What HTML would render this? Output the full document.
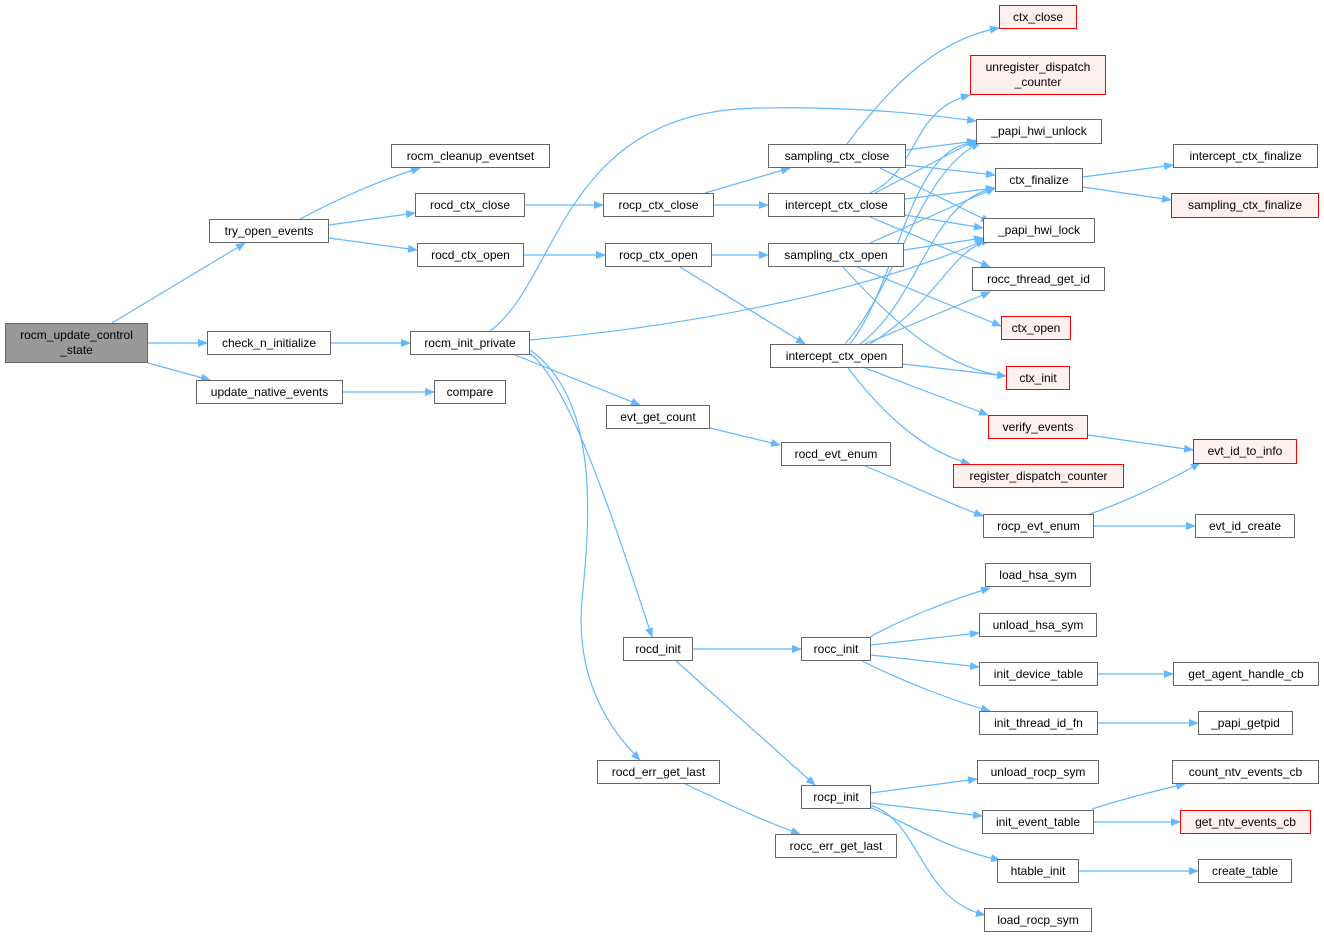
<!DOCTYPE html>
<html><head><meta charset="utf-8"><style>
body{margin:0;width:1324px;height:940px;background:#fff;position:relative;overflow:hidden;font-family:"Liberation Sans",Arial,sans-serif;}
.n{position:absolute;box-sizing:border-box;border:1px solid #666;background:#fff;font-size:12px;color:#000;display:flex;align-items:center;justify-content:center;text-align:center;line-height:15px;white-space:nowrap}
.r{border-color:#f00;background:#fff0f0}
.g{background:#999;border-color:#666}
svg{position:absolute;left:0;top:0}
</style></head><body>
<svg width="1324" height="940">
<defs><marker id="a" markerWidth="10" markerHeight="8" refX="9" refY="4" orient="auto" markerUnits="userSpaceOnUse"><path d="M0,0 L10,4 L0,8 z" fill="#63b8ff"/></marker></defs>
<g fill="none" stroke="#63b8ff" stroke-width="1.2" marker-end="url(#a)">
<path d="M112,323 L245,243"/>
<path d="M148,343 L207,343"/>
<path d="M148,363 L210,380"/>
<path d="M300,219 C340,198 380,180 420,168"/>
<path d="M329,225 L415,213"/>
<path d="M329,238 L417,250"/>
<path d="M331,343 L410,343"/>
<path d="M343,392 L434,392"/>
<path d="M525,205 L603,205"/>
<path d="M524,255 L605,255"/>
<path d="M490,331 C560,280 560,110 760,108 C860,106 930,115 976,121"/>
<path d="M530,340 C700,325 870,290 985,240"/>
<path d="M515,355 L640,405"/>
<path d="M528,352 C570,380 620,540 652,637"/>
<path d="M530,350 C600,400 590,520 582,600 C575,680 610,730 640,760"/>
<path d="M705,193 L790,168"/>
<path d="M714,205 L768,205"/>
<path d="M712,255 L768,255"/>
<path d="M680,267 L805,344"/>
<path d="M710,428 L780,445"/>
<path d="M865,466 C900,480 940,500 983,516"/>
<path d="M693,649 L801,649"/>
<path d="M676,661 L815,785"/>
<path d="M685,784 C720,800 760,820 800,834"/>
<path d="M847,144 C880,100 930,40 999,28"/>
<path d="M906,150 L976,141"/>
<path d="M906,165 L995,175"/>
<path d="M880,168 L990,222"/>
<path d="M870,193 C920,170 910,110 970,95"/>
<path d="M875,193 L976,140"/>
<path d="M905,199 L995,188"/>
<path d="M905,215 L983,228"/>
<path d="M870,217 L990,267"/>
<path d="M870,243 L995,188"/>
<path d="M904,250 L983,238"/>
<path d="M857,267 L1001,326"/>
<path d="M843,267 C900,330 950,370 1006,376"/>
<path d="M845,344 C900,280 920,170 980,143"/>
<path d="M850,344 C900,280 910,140 978,143"/>
<path d="M860,344 C920,300 930,200 995,188"/>
<path d="M870,344 C940,300 950,250 990,240"/>
<path d="M865,344 L990,292"/>
<path d="M903,364 L1006,376"/>
<path d="M865,368 L988,415"/>
<path d="M848,368 C880,410 920,450 970,464"/>
<path d="M1083,177 L1173,165"/>
<path d="M1083,187 L1171,200"/>
<path d="M1088,435 L1193,450"/>
<path d="M1090,514 C1130,500 1170,480 1200,463"/>
<path d="M1094,526 L1195,526"/>
<path d="M870,637 C900,620 950,600 990,588"/>
<path d="M871,645 L979,633"/>
<path d="M871,655 L979,667"/>
<path d="M862,661 C900,680 950,700 990,711"/>
<path d="M1098,674 L1173,674"/>
<path d="M1098,723 L1198,723"/>
<path d="M871,793 L977,779"/>
<path d="M871,803 L982,816"/>
<path d="M870,807 C920,830 950,850 1000,860"/>
<path d="M870,805 C920,820 920,900 985,915"/>
<path d="M1092,809 C1120,800 1150,792 1185,784"/>
<path d="M1094,822 L1180,822"/>
<path d="M1079,871 L1198,871"/>
</g></svg>
<div class="n g" style="left:5px;top:323px;width:143px;height:40px">rocm_update_control<br>_state</div>
<div class="n" style="left:209px;top:219px;width:120px;height:24px">try_open_events</div>
<div class="n" style="left:207px;top:331px;width:124px;height:24px">check_n_initialize</div>
<div class="n" style="left:196px;top:380px;width:147px;height:24px">update_native_events</div>
<div class="n" style="left:391px;top:144px;width:159px;height:24px">rocm_cleanup_eventset</div>
<div class="n" style="left:415px;top:193px;width:110px;height:24px">rocd_ctx_close</div>
<div class="n" style="left:417px;top:243px;width:107px;height:24px">rocd_ctx_open</div>
<div class="n" style="left:410px;top:331px;width:120px;height:24px">rocm_init_private</div>
<div class="n" style="left:434px;top:380px;width:72px;height:24px">compare</div>
<div class="n" style="left:603px;top:193px;width:111px;height:24px">rocp_ctx_close</div>
<div class="n" style="left:605px;top:243px;width:107px;height:24px">rocp_ctx_open</div>
<div class="n" style="left:606px;top:405px;width:104px;height:24px">evt_get_count</div>
<div class="n" style="left:781px;top:442px;width:110px;height:24px">rocd_evt_enum</div>
<div class="n" style="left:623px;top:637px;width:70px;height:24px">rocd_init</div>
<div class="n" style="left:597px;top:760px;width:123px;height:24px">rocd_err_get_last</div>
<div class="n" style="left:768px;top:144px;width:138px;height:24px">sampling_ctx_close</div>
<div class="n" style="left:768px;top:193px;width:137px;height:24px">intercept_ctx_close</div>
<div class="n" style="left:768px;top:243px;width:136px;height:24px">sampling_ctx_open</div>
<div class="n" style="left:770px;top:344px;width:133px;height:24px">intercept_ctx_open</div>
<div class="n" style="left:801px;top:637px;width:70px;height:24px">rocc_init</div>
<div class="n" style="left:801px;top:785px;width:70px;height:24px">rocp_init</div>
<div class="n" style="left:775px;top:834px;width:122px;height:24px">rocc_err_get_last</div>
<div class="n" style="left:983px;top:514px;width:111px;height:24px">rocp_evt_enum</div>
<div class="n r" style="left:999px;top:5px;width:78px;height:24px">ctx_close</div>
<div class="n r" style="left:970px;top:55px;width:136px;height:40px">unregister_dispatch<br>_counter</div>
<div class="n" style="left:976px;top:119px;width:126px;height:25px">_papi_hwi_unlock</div>
<div class="n" style="left:995px;top:168px;width:88px;height:24px">ctx_finalize</div>
<div class="n" style="left:983px;top:218px;width:112px;height:25px">_papi_hwi_lock</div>
<div class="n" style="left:972px;top:267px;width:133px;height:24px">rocc_thread_get_id</div>
<div class="n r" style="left:1001px;top:316px;width:70px;height:24px">ctx_open</div>
<div class="n r" style="left:1006px;top:366px;width:64px;height:24px">ctx_init</div>
<div class="n r" style="left:988px;top:415px;width:100px;height:24px">verify_events</div>
<div class="n r" style="left:953px;top:464px;width:171px;height:24px">register_dispatch_counter</div>
<div class="n" style="left:985px;top:563px;width:106px;height:24px">load_hsa_sym</div>
<div class="n" style="left:979px;top:613px;width:118px;height:24px">unload_hsa_sym</div>
<div class="n" style="left:979px;top:662px;width:119px;height:24px">init_device_table</div>
<div class="n" style="left:979px;top:711px;width:119px;height:24px">init_thread_id_fn</div>
<div class="n" style="left:977px;top:760px;width:122px;height:24px">unload_rocp_sym</div>
<div class="n" style="left:982px;top:810px;width:112px;height:24px">init_event_table</div>
<div class="n" style="left:997px;top:859px;width:82px;height:24px">htable_init</div>
<div class="n" style="left:984px;top:908px;width:108px;height:24px">load_rocp_sym</div>
<div class="n" style="left:1173px;top:144px;width:145px;height:24px">intercept_ctx_finalize</div>
<div class="n r" style="left:1171px;top:193px;width:148px;height:25px">sampling_ctx_finalize</div>
<div class="n r" style="left:1193px;top:439px;width:104px;height:25px">evt_id_to_info</div>
<div class="n" style="left:1195px;top:514px;width:100px;height:24px">evt_id_create</div>
<div class="n" style="left:1173px;top:662px;width:146px;height:24px">get_agent_handle_cb</div>
<div class="n" style="left:1198px;top:711px;width:95px;height:24px">_papi_getpid</div>
<div class="n" style="left:1172px;top:760px;width:147px;height:24px">count_ntv_events_cb</div>
<div class="n r" style="left:1180px;top:810px;width:131px;height:24px">get_ntv_events_cb</div>
<div class="n" style="left:1198px;top:859px;width:94px;height:24px">create_table</div>
</body></html>
